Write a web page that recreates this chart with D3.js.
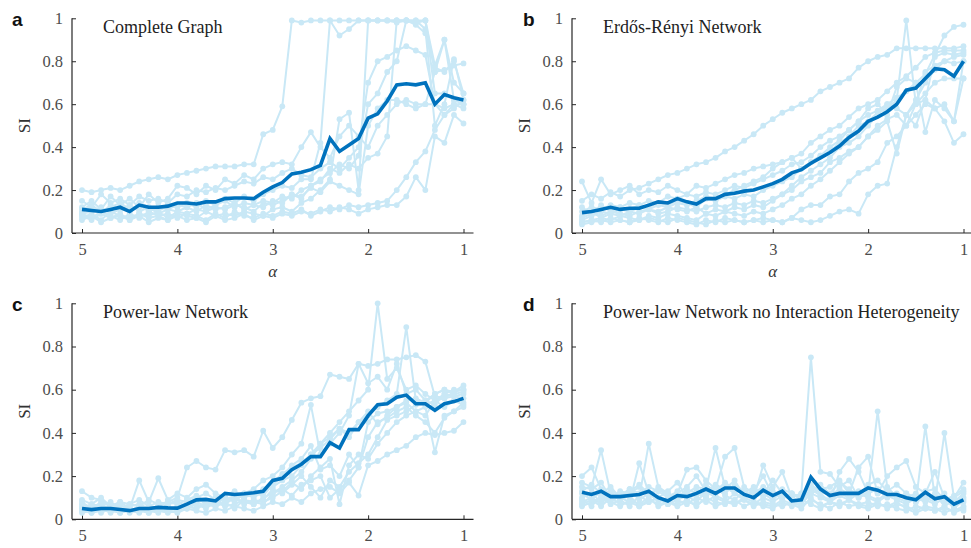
<!DOCTYPE html>
<html><head><meta charset="utf-8">
<script src="https://cdn.jsdelivr.net/npm/d3@7/dist/d3.min.js"></script>
<style>body{margin:0;background:#fff}svg{display:block;background:#fff}</style>
</head><body><svg id="chart" width="971" height="548"></svg>
<script>
// ---------- data ----------
const alpha = [5.0,4.9,4.8,4.7,4.6,4.5,4.4,4.3,4.2,4.1,4.0,3.9,3.8,3.7,3.6,3.5,3.4,3.3,3.2,3.1,3.0,2.9,2.8,2.7,2.6,2.5,2.4,2.3,2.2,2.1,2.0,1.9,1.8,1.7,1.6,1.5,1.4,1.3,1.2,1.1,1.0];
const xTicks = [5,4,3,2,1];
const yTicks = [0,0.2,0.4,0.6,0.8,1];
const yTickLabels = ["0","0.2","0.4","0.6","0.8","1"];
const panelLetters = ["a","b","c","d"];
const panelTitles = ["Complete Graph","Erdős-Rényi Network","Power-law Network","Power-law Network no Interaction Heterogeneity"];
const xLabel = "α";
const yLabel = "SI";

// Panel a: Complete Graph
const meanA = [.11,.105,.10,.11,.12,.10,.13,.12,.12,.125, .14,.14,.135,.145,.145,.16,.163,.163,.16,.19, .215,.235,.275,.283,.295,.315,.44,.38,.41,.44, .535,.555,.615,.69,.695,.69,.70,.60,.645,.63, .62];
const runsA = [
 [.20,.19,.20,.21,.20,.22,.24,.25,.26,.25, .27,.28,.29,.30,.31,.31,.31,.32,.32,.46, .48,.59,.99,.98,.99,.99,.99,.92,.95,.99, .99,.99,.99,.99,.99,.98,.99,.75,.76,.78, .79],
 [.10,.12,.09,.13,.11,.10,.14,.12,.10,.13, .12,.14,.12,.15,.13,.16,.14,.17,.15,.18, .20,.22,.21,.25,.25,.42,.99,.99,.99,.99, .99,.99,.99,.99,.99,.99,.99,.78,.90,.70, .65],
 [.08,.06,.09,.07,.08,.06,.09,.07,.08,.06, .09,.08,.07,.10,.08,.09,.08,.10,.09,.08, .11,.12,.10,.14,.16,.20,.25,.53,.56,.20, .99,.99,.99,.98,.99,.97,.93,.77,.75,.80, .65],
 [.15,.12,.18,.14,.16,.13,.17,.15,.16,.14, .18,.17,.20,.19,.21,.20,.22,.24,.23,.26, .25,.28,.30,.27,.26,.30,.33,.30,.35,.40, .70,.80,.82,.85,.87,.85,.83,.60,.55,.60, .58],
 [.07,.09,.06,.10,.08,.07,.09,.08,.10,.07, .10,.09,.11,.10,.12,.11,.13,.12,.10,.14, .13,.15,.18,.16,.22,.25,.28,.32,.30,.36, .60,.65,.75,.80,.99,.98,.99,.65,.65,.62, .60],
 [.12,.15,.11,.17,.13,.16,.12,.18,.14,.16, .22,.21,.18,.22,.20,.25,.23,.27,.25,.30, .32,.33,.32,.40,.47,.40,.35,.45,.50,.45, .40,.50,.55,.60,.62,.60,.60,.60,.58,.60, .60],
 [.09,.07,.10,.08,.06,.09,.07,.10,.08,.09, .07,.09,.08,.06,.09,.07,.10,.08,.07,.09, .08,.10,.09,.11,.08,.10,.12,.11,.13,.12, .13,.14,.15,.20,.26,.33,.38,.48,.55,.58, .62],
 [.06,.08,.05,.07,.09,.06,.08,.05,.07,.06, .08,.06,.07,.05,.08,.06,.07,.09,.06,.08, .07,.09,.08,.10,.09,.11,.10,.12,.11,.09, .11,.12,.13,.13,.17,.26,.20,.45,.42,.55, .51],
 [.11,.13,.10,.12,.14,.11,.13,.10,.12,.11, .13,.12,.14,.11,.13,.15,.12,.14,.13,.15, .14,.17,.16,.20,.22,.24,.30,.28,.32,.30, .35,.37,.45,.99,.99,.99,.95,.50,.60,.81, .62],
 [.09,.10,.12,.09,.11,.13,.10,.12,.09,.11, .10,.12,.10,.13,.11,.12,.14,.11,.13,.12, .15,.14,.18,.17,.21,.19,.24,.22,.20,.18, .50,.58,.62,.62,.60,.58,.60,.75,.90,.62, .60]
];

// Panel b: Erdős-Rényi Network
const meanB = [.095,.10,.11,.12,.11,.115,.115,.13,.145,.14, .16,.145,.135,.16,.16,.18,.185,.195,.20,.215, .23,.25,.28,.295,.325,.35,.375,.405,.445,.475, .52,.54,.565,.60,.665,.675,.72,.765,.76,.73, .80];
const runsB = [
 [.15,.18,.16,.19,.17,.20,.21,.23,.25,.27, .28,.30,.32,.33,.35,.38,.40,.43,.46,.50, .53,.56,.58,.60,.62,.66,.68,.70,.72,.77, .80,.82,.83,.86,.86,.86,.86,.86,.86,.86, .87],
 [.10,.12,.11,.13,.12,.14,.13,.15,.14,.17, .16,.18,.17,.19,.18,.20,.22,.21,.23,.25, .27,.29,.32,.33,.36,.40,.43,.45,.48,.52, .55,.57,.60,.63,.66,.70,.74,.83,.92,.96, .97],
 [.06,.08,.10,.09,.11,.10,.12,.11,.13,.12, .14,.13,.15,.17,.16,.18,.20,.22,.24,.26, .30,.33,.35,.37,.42,.45,.48,.50,.54,.58, .60,.62,.66,.70,.73,.77,.82,.84,.85,.85, .85],
 [.24,.14,.25,.18,.20,.22,.18,.20,.19,.22, .20,.18,.22,.21,.23,.25,.27,.28,.30,.31, .32,.33,.35,.30,.33,.36,.38,.42,.45,.50, .52,.56,.58,.62,.99,.60,.62,.82,.84,.83, .84],
 [.08,.10,.07,.09,.08,.10,.09,.11,.10,.12, .11,.10,.12,.09,.11,.10,.12,.11,.13,.12, .15,.18,.22,.26,.29,.32,.35,.40,.42,.45, .50,.55,.60,.58,.55,.62,.70,.76,.80,.79, .80],
 [.12,.09,.13,.10,.12,.11,.13,.12,.14,.13, .15,.14,.12,.16,.15,.17,.16,.18,.17,.20, .22,.24,.26,.30,.33,.36,.40,.43,.48,.52, .58,.60,.55,.68,.72,.70,.47,.62,.58,.52, .72],
 [.05,.06,.07,.06,.08,.07,.06,.08,.07,.09, .08,.07,.06,.09,.08,.10,.09,.08,.10,.09, .11,.13,.16,.18,.22,.25,.29,.33,.37,.40, .45,.50,.53,.55,.50,.60,.75,.78,.80,.82, .83],
 [.04,.05,.06,.05,.06,.05,.07,.06,.05,.07, .06,.05,.04,.06,.05,.07,.06,.05,.06,.07, .06,.05,.07,.11,.13,.13,.17,.18,.24,.28, .30,.33,.42,.45,.50,.55,.60,.58,.52,.42, .46],
 [.05,.06,.05,.07,.06,.05,.06,.07,.06,.05, .07,.06,.05,.04,.06,.05,.06,.05,.06,.05, .06,.05,.07,.06,.05,.06,.08,.10,.11,.09, .18,.22,.23,.40,.55,.60,.65,.70,.72,.72, .72],
 [.07,.09,.08,.10,.09,.08,.10,.11,.09,.10, .12,.11,.10,.12,.13,.12,.14,.13,.15,.14, .16,.18,.20,.24,.26,.28,.33,.35,.38,.40, .45,.48,.52,.37,.55,.50,.62,.58,.60,.52, .80]
];

// Panel c: Power-law Network
const meanC = [.05,.045,.05,.05,.045,.04,.05,.05,.055,.053, .052,.07,.09,.092,.085,.12,.115,.118,.123,.13, .18,.19,.23,.255,.29,.29,.355,.33,.415,.415, .48,.53,.535,.565,.575,.535,.535,.505,.535,.545, .56];
const runsC = [
 [.13,.10,.09,.06,.08,.05,.04,.06,.05,.04, .05,.08,.10,.07,.06,.08,.05,.09,.07,.10, .12,.15,.18,.22,.28,.35,.40,.45,.50,.55, .60,1.0,.65,.70,.60,.62,.58,.55,.56,.57, .58],
 [.08,.05,.07,.04,.06,.03,.05,.04,.03,.06, .04,.06,.05,.08,.07,.10,.09,.12,.10,.13, .15,.18,.20,.25,.30,.35,.38,.42,.40,.45, .48,.52,.55,.58,.89,.55,.53,.55,.58,.57, .56],
 [.05,.07,.06,.08,.05,.07,.06,.09,.07,.08, .10,.24,.27,.24,.23,.32,.31,.32,.29,.41, .33,.38,.46,.54,.56,.57,.67,.66,.65,.72, .71,.72,.74,.74,.75,.76,.73,.57,.56,.59, .60],
 [.03,.04,.05,.06,.04,.05,.18,.08,.19,.09, .12,.10,.14,.16,.12,.10,.08,.12,.14,.18, .20,.24,.30,.35,.53,.30,.35,.40,.48,.72, .63,.66,.60,.72,.58,.60,.55,.58,.60,.59, .62],
 [.04,.03,.05,.04,.03,.05,.04,.03,.05,.04, .03,.05,.04,.03,.05,.04,.06,.05,.04,.06, .08,.07,.10,.08,.12,.14,.15,.12,.17,.11, .25,.27,.30,.32,.34,.38,.40,.39,.40,.41, .45],
 [.05,.03,.04,.06,.03,.04,.05,.03,.06,.04, .06,.05,.08,.06,.09,.07,.10,.08,.07,.09, .14,.12,.16,.20,.15,.10,.18,.15,.22,.26, .30,.38,.46,.48,.50,.53,.55,.53,.58,.60, .60],
 [.04,.06,.03,.05,.07,.04,.06,.05,.04,.07, .08,.06,.05,.07,.06,.08,.10,.07,.09,.08, .10,.13,.17,.14,.20,.24,.28,.07,.25,.30, .28,.35,.40,.45,.48,.50,.52,.31,.48,.50, .54],
 [.07,.05,.08,.06,.04,.06,.07,.05,.06,.08, .07,.09,.11,.08,.10,.09,.11,.10,.12,.11, .16,.20,.25,.28,.34,.23,.25,.20,.30,.24, .45,.49,.50,.52,.54,.50,.48,.55,.52,.55, .53],
 [.06,.04,.05,.03,.05,.04,.03,.05,.04,.03, .04,.05,.07,.05,.08,.06,.07,.09,.08,.07, .12,.14,.11,.16,.18,.20,.10,.14,.18,.24, .38,.45,.47,.50,.52,.48,.45,.40,.47,.50, .52],
 [.09,.07,.10,.06,.08,.07,.09,.06,.08,.07, .09,.08,.10,.12,.09,.11,.13,.10,.12,.14, .17,.21,.24,.26,.30,.33,.37,.42,.38,.45, .50,.44,.48,.52,.55,.56,.54,.58,.60,.58, .59]
];

// Panel d: Power-law Network no Interaction Heterogeneity
const meanD = [.125,.115,.13,.105,.105,.11,.115,.13,.10,.085, .11,.105,.12,.14,.12,.145,.145,.115,.10,.135, .11,.13,.085,.09,.195,.14,.11,.12,.12,.12, .145,.135,.115,.115,.10,.09,.125,.095,.105,.07, .09];
const runsD = [
 [.20,.24,.14,.12,.10,.14,.12,.15,.13,.10, .12,.23,.24,.18,.14,.12,.16,.13,.10,.25, .15,.22,.10,.12,.75,.22,.21,.15,.18,.10, .12,.50,.15,.10,.12,.08,.10,.08,.40,.10, .17],
 [.17,.15,.32,.12,.10,.14,.10,.35,.15,.12, .10,.12,.15,.14,.33,.15,.12,.10,.14,.12, .18,.12,.10,.12,.15,.12,.08,.22,.28,.22, .12,.14,.10,.12,.10,.08,.43,.10,.12,.06, .08],
 [.10,.12,.08,.14,.10,.08,.26,.12,.10,.13, .17,.10,.13,.11,.14,.29,.33,.15,.12,.15, .12,.10,.12,.10,.12,.14,.15,.18,.12,.24, .29,.12,.20,.24,.27,.15,.12,.22,.10,.08, .12],
 [.08,.10,.07,.12,.09,.06,.11,.08,.10,.07, .09,.11,.08,.13,.10,.08,.12,.09,.07,.10, .08,.11,.09,.07,.12,.10,.08,.11,.09,.12, .10,.08,.11,.09,.07,.10,.08,.12,.06,.09, .10],
 [.12,.09,.13,.08,.11,.14,.09,.12,.08,.10, .13,.09,.12,.10,.15,.11,.09,.13,.10,.12, .09,.13,.10,.08,.14,.11,.09,.12,.10,.13, .11,.09,.12,.10,.08,.11,.09,.07,.10,.05, .09],
 [.06,.08,.10,.07,.09,.11,.06,.08,.10,.07, .09,.07,.10,.08,.11,.09,.07,.10,.08,.06, .05,.08,.06,.09,.07,.05,.08,.06,.09,.07, .06,.08,.05,.07,.06,.04,.06,.05,.03,.05, .04],
 [.15,.14,.17,.10,.13,.12,.15,.11,.14,.12, .10,.14,.12,.16,.13,.17,.14,.12,.15,.11, .13,.10,.12,.09,.16,.13,.11,.14,.12,.10, .15,.12,.14,.11,.10,.12,.09,.11,.08,.10, .13],
 [.09,.06,.11,.08,.06,.09,.07,.10,.06,.08, .07,.09,.06,.10,.08,.07,.09,.06,.08,.07, .06,.09,.07,.05,.10,.06,.08,.07,.09,.06, .05,.07,.06,.08,.05,.03,.05,.04,.06,.03, .05],
 [.13,.16,.12,.15,.10,.13,.16,.12,.14,.11, .12,.15,.20,.13,.16,.14,.18,.11,.13,.20, .11,.14,.12,.10,.13,.16,.12,.17,.14,.11, .16,.18,.13,.16,.12,.10,.13,.14,.09,.11, .14],
 [.07,.09,.06,.10,.07,.08,.06,.09,.07,.08, .06,.08,.07,.09,.06,.08,.07,.09,.06,.08, .07,.06,.08,.06,.09,.07,.05,.08,.06,.07, .08,.06,.07,.05,.04,.06,.05,.04,.05,.04, .06]
];

// ---------- drawing ----------
const panels = [
  {mean: meanA, runs: runsA, col: 0, row: 0},
  {mean: meanB, runs: runsB, col: 1, row: 0},
  {mean: meanC, runs: runsC, col: 0, row: 1},
  {mean: meanD, runs: runsD, col: 1, row: 1}
];
const LIGHT = "#c9e8f6", DARK = "#0072bd", AXIS = "#262626", TICKTXT = "#4d4d4d";
const SERIF = "'Liberation Serif','DejaVu Serif',serif";
const svg = d3.select("#chart");

panels.forEach((p, k) => {
  const left = 82 + p.col * 500, right = 463.5 + p.col * 500;
  const top = p.row ? 303.3 : 18.3, bottom = p.row ? 519.3 : 233;
  const x = d3.scaleLinear().domain([5, 1]).range([left, right]);
  const y = d3.scaleLinear().domain([0, 1]).range([bottom, top]);
  const g = svg.append("g");
  const axX = left - 10;

  // axes
  const xa = g.append("g").attr("transform", `translate(0,${bottom})`)
    .call(d3.axisBottom(x).tickValues(xTicks).tickSize(-4).tickSizeOuter(0).tickPadding(10).tickFormat(d3.format("d")));
  const ya = g.append("g").attr("transform", `translate(${axX},0)`)
    .call(d3.axisLeft(y).tickValues(yTicks).tickSize(-4).tickSizeOuter(0).tickPadding(9).tickFormat((d, i) => yTickLabels[i]));
  [xa, ya].forEach(a => {
    a.select(".domain").remove();
    a.selectAll("line").attr("stroke", AXIS).attr("stroke-width", 1);
    a.selectAll("text").attr("fill", TICKTXT).style("font-family", SERIF).style("font-size", "16.5px");
  });
  g.append("line").attr("x1", axX).attr("x2", right + 10).attr("y1", bottom).attr("y2", bottom).attr("stroke", AXIS).attr("stroke-width", 1.2);
  g.append("line").attr("x1", axX).attr("x2", axX).attr("y1", bottom).attr("y2", top).attr("stroke", AXIS).attr("stroke-width", 1.2);

  // runs
  const line = d3.line().x((d, i) => x(alpha[i])).y(d => y(d));
  p.runs.forEach(r => {
    g.append("path").datum(r).attr("d", line).attr("fill", "none").attr("stroke", LIGHT).attr("stroke-width", 2).attr("stroke-linejoin", "round");
  });
  p.runs.forEach(r => {
    g.append("g").selectAll("circle").data(r).join("circle")
      .attr("cx", (d, i) => x(alpha[i])).attr("cy", d => y(d)).attr("r", 2.9).attr("fill", LIGHT);
  });
  // mean
  g.append("path").datum(p.mean).attr("d", line).attr("fill", "none").attr("stroke", DARK).attr("stroke-width", 3.6).attr("stroke-linejoin", "miter");

  // labels
  g.append("text").attr("x", 12 + p.col * 511).attr("y", top + 7.5).text(panelLetters[k])
    .style("font-family", "'Liberation Sans',Arial,sans-serif").style("font-weight", "bold").style("font-size", "19px").attr("fill", "#111");
  g.append("text").attr("x", left + 21).attr("y", top + 15).text(panelTitles[k])
    .style("font-family", SERIF).style("font-size", "18px").attr("fill", "#222");
  g.append("text").attr("transform", `translate(${axX - 42},${(top + bottom) / 2}) rotate(-90)`).attr("text-anchor", "middle")
    .text(yLabel).style("font-family", SERIF).style("font-size", "17px").attr("fill", "#333");
  if (p.row === 0) {
    g.append("text").attr("x", (left + right) / 2).attr("y", bottom + 44).attr("text-anchor", "middle")
      .text(xLabel).style("font-family", SERIF).style("font-style", "italic").style("font-size", "17px").attr("fill", "#333");
  }
});
</script></body></html>
